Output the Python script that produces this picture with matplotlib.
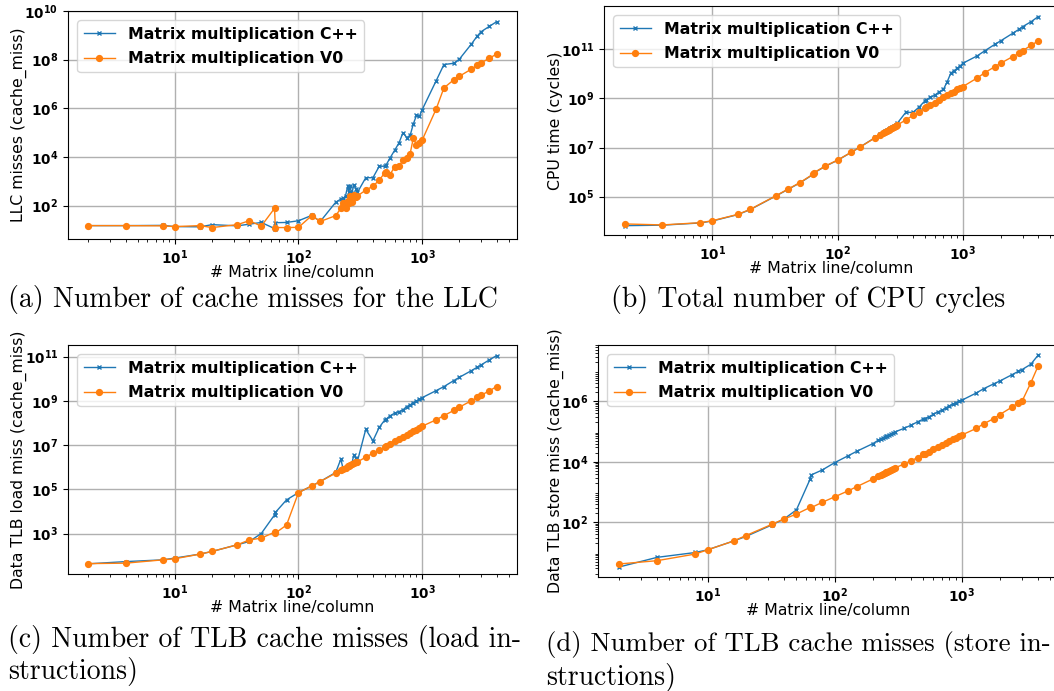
import numpy as np
import matplotlib
matplotlib.use("Agg")
import matplotlib.pyplot as plt
from matplotlib.ticker import FixedLocator

# Matrix sizes (lines/columns) used for every benchmark run
sizes = [2, 4, 8, 10, 16, 20, 32, 40, 50, 64, 65, 80, 100, 128, 150, 200,
         220, 230, 240, 250, 256, 260, 270, 280, 290, 300,
         350, 400, 450, 500, 512, 550, 600, 650, 700, 750, 800, 850, 900, 950, 1000,
         1300, 1500, 1800, 2000, 2500, 2800, 3000, 3500, 4000]

# All counters below are stored as log10 of the measured value
llc_cpp = [1.18, 1.18, 1.19, 1.14, 1.13, 1.22, 1.17, 1.24, 1.31, 1.06, 1.30, 1.31, 1.38, 1.60, 1.35, 2.14,
           2.27, 2.30, 2.40, 2.80, 2.55, 2.80, 2.50, 2.85, 2.70, 2.55,
           3.15, 3.15, 3.62, 3.62, 3.68, 3.96, 4.28, 4.58, 5.00, 4.80, 4.89, 5.37, 5.71, 5.67, 5.94,
           7.14, 7.80, 7.85, 8.02, 8.64, 8.98, 9.15, 9.37, 9.56]
llc_v0 = [1.18, 1.18, 1.17, 1.14, 1.18, 1.10, 1.22, 1.38, 1.16, 1.89, 1.10, 1.10, 1.11, 1.59, 1.35, 1.59,
          1.89, 2.10, 1.89, 2.20, 2.10, 2.40, 2.15, 2.45, 2.35, 2.40,
          2.64, 2.80, 3.05, 3.36, 3.39, 3.28, 3.60, 3.62, 3.87, 3.96, 4.14, 4.80, 4.48, 4.58, 4.69,
          5.98, 6.84, 7.17, 7.32, 7.61, 7.78, 7.87, 8.06, 8.23]

cycles_cpp = [3.82, 3.84, 3.93, 4.01, 4.27, 4.47, 5.02, 5.29, 5.56, 5.91, 5.97, 6.24, 6.48, 6.80, 7.01, 7.41,
              7.55, 7.61, 7.66, 7.72, 7.76, 7.78, 7.83, 7.88, 7.93, 7.99,
              8.43, 8.43, 8.66, 8.91, 8.95, 9.04, 9.14, 9.27, 9.37, 9.68, 10.02, 10.13, 10.22, 10.32, 10.43,
              10.73, 10.94, 11.20, 11.34, 11.65, 11.81, 11.92, 12.12, 12.33]
cycles_v0 = [3.89, 3.85, 3.94, 4.02, 4.28, 4.48, 5.03, 5.30, 5.57, 5.92, 5.98, 6.25, 6.49, 6.80, 7.01, 7.40,
             7.52, 7.58, 7.63, 7.69, 7.72, 7.74, 7.79, 7.83, 7.88, 7.92,
             8.12, 8.31, 8.46, 8.60, 8.64, 8.72, 8.83, 8.93, 9.04, 9.12, 9.21, 9.27, 9.37, 9.42, 9.48,
             9.83, 10.05, 10.29, 10.43, 10.70, 10.83, 10.94, 11.16, 11.34]

tlb_load_cpp = [1.63, 1.73, 1.81, 1.89, 2.07, 2.19, 2.49, 2.64, 3.00, 3.84, 3.95, 4.52, 4.85, 5.15, 5.35, 5.76,
                6.36, 5.90, 5.98, 6.05, 6.08, 6.10, 6.15, 6.55, 6.40, 6.28,
                7.71, 7.19, 7.80, 8.14, 8.17, 8.32, 8.44, 8.51, 8.59, 8.74, 8.81, 8.92, 8.99, 9.07, 9.14,
                9.46, 9.64, 9.91, 10.06, 10.36, 10.52, 10.62, 10.85, 11.04]
tlb_load_v0 = [1.64, 1.66, 1.81, 1.86, 2.07, 2.19, 2.49, 2.71, 2.79, 3.06, 3.02, 3.38, 4.85, 5.15, 5.35, 5.73,
               5.86, 5.92, 5.98, 6.03, 6.06, 6.08, 6.13, 6.17, 6.21, 6.24,
               6.45, 6.63, 6.78, 6.90, 6.96, 7.04, 7.16, 7.26, 7.37, 7.46, 7.53, 7.62, 7.70, 7.77, 7.85,
               8.14, 8.33, 8.56, 8.71, 9.00, 9.15, 9.25, 9.45, 9.64]

tlb_store_cpp = [0.52, 0.84, 1.00, 1.09, 1.38, 1.53, 1.91, 2.11, 2.41, 3.42, 3.56, 3.73, 3.97, 4.20, 4.35, 4.60,
                 4.71, 4.75, 4.79, 4.82, 4.84, 4.85, 4.89, 4.92, 4.96, 4.99,
                 5.10, 5.21, 5.32, 5.41, 5.43, 5.48, 5.57, 5.65, 5.70, 5.78, 5.85, 5.90, 5.95, 6.00, 6.03,
                 6.27, 6.42, 6.58, 6.67, 6.88, 6.99, 7.05, 7.22, 7.52]
tlb_store_v0 = [0.62, 0.73, 0.95, 1.09, 1.38, 1.56, 1.93, 2.11, 2.27, 2.49, 2.48, 2.66, 2.84, 3.04, 3.18, 3.43,
                3.53, 3.57, 3.61, 3.64, 3.66, 3.67, 3.70, 3.74, 3.77, 3.80,
                3.92, 4.03, 4.14, 4.24, 4.27, 4.33, 4.42, 4.49, 4.55, 4.63, 4.69, 4.75, 4.80, 4.85, 4.88,
                5.10, 5.26, 5.43, 5.56, 5.81, 5.95, 6.01, 6.60, 7.16]

W, H = 1054, 691
plt.rcParams["font.weight"] = "bold"

fig = plt.figure(figsize=(W / 100, H / 100), dpi=100)


def panel(box, cpp, v0, ylabel, yticks, ylim):
    left, right, top, bottom = box
    ax = fig.add_axes([left / W, 1 - bottom / H, (right - left) / W, (bottom - top) / H])
    ax.plot(sizes, np.power(10.0, cpp), marker="x", markersize=3.5, linewidth=1,
            color="#1f77b4", label="Matrix multiplication C++")
    ax.plot(sizes, np.power(10.0, v0), marker="o", markersize=4.2, linewidth=1,
            color="#ff7f0e", label="Matrix multiplication V0")
    ax.set_xscale("log")
    ax.set_yscale("log")
    ax.set_ylim(10.0 ** ylim[0], 10.0 ** ylim[1])
    ax.yaxis.set_major_locator(FixedLocator([10.0 ** k for k in yticks]))
    ax.grid(True, which="major", color="#b0b0b0", linewidth=1)
    ax.tick_params(labelsize=9.8)
    ax.set_xlabel("# Matrix line/column", fontsize=11.3, fontweight="normal", labelpad=-1.5)
    ax.set_ylabel(ylabel, fontsize=11.3, fontweight="normal", labelpad=-2)
    ax.legend(loc="upper left", prop={"size": 11.3, "weight": "bold"}, labelspacing=0.6,
              borderaxespad=0.6)
    return ax


panel((68, 517, 11, 239), llc_cpp, llc_v0, "LLC misses (cache_miss)",
      [2, 4, 6, 8, 10], (0.63, 10.0))
panel((604, 1059, 6, 235), cycles_cpp, cycles_v0, "CPU time (cycles)",
      [5, 7, 9, 11], (3.44, 12.76))
panel((68, 517, 345, 574), tlb_load_cpp, tlb_load_v0, "Data TLB load miss (cache_miss)",
      [3, 5, 7, 9, 11], (1.17, 11.52))
panel((598, 1059, 345, 577), tlb_store_cpp, tlb_store_v0, "Data TLB store miss (cache_miss)",
      [2, 4, 6], (0.19, 7.86))

cap = dict(fontfamily="cmr10", fontweight="normal", fontsize=20, va="center", ha="left")
fig.text(8 / W, 1 - 300 / H, "(a) Number of cache misses for the LLC", **cap)
fig.text(611 / W, 1 - 300 / H, "(b) Total number of CPU cycles", **cap)
fig.text(8 / W, 1 - 640 / H, "(c) Number of TLB cache misses (load in-", **cap)
fig.text(8 / W, 1 - 671 / H, "structions)", **cap)
fig.text(546 / W, 1 - 645 / H, "(d) Number of TLB cache misses (store in-",
         **{**cap, "fontsize": 19.3})
fig.text(546 / W, 1 - 677 / H, "structions)", **cap)

fig.savefig("out.png", dpi=100)
